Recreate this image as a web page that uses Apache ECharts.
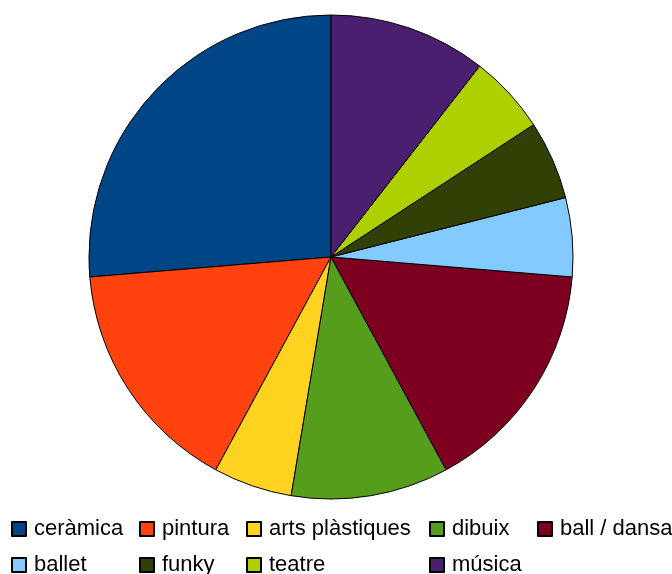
<!DOCTYPE html>
<html>
<head>
<meta charset="utf-8">
<style>html,body{margin:0;padding:0;background:#fff;}#c{width:672px;height:574px;}</style>
<script src="https://cdn.jsdelivr.net/npm/echarts@6/dist/echarts.min.js"></script>
</head>
<body>
<div id="c"></div>
<script>
const categories = ['ceràmica', 'pintura', 'arts plàstiques', 'dibuix', 'ball / dansa', 'ballet', 'funky', 'teatre', 'música'];
const values = [5, 3, 1, 2, 3, 1, 1, 1, 2];
const colors = ['#004586', '#ff420e', '#ffd320', '#579d1c', '#7e0021', '#83caff', '#314004', '#aecf00', '#4b1f6f'];
// legend grid: column and row of each category
const legendCol = [0, 1, 2, 3, 4, 0, 1, 2, 3];
const legendRow = [0, 0, 0, 0, 0, 1, 1, 1, 1];
const colLefts = [11, 139, 246, 429, 537];
const rowTops = [515, 551];

const chart = echarts.init(document.getElementById('c'), null, {renderer: 'canvas'});
const font = '"Liberation Sans", Arial, sans-serif';
chart.setOption({
  animation: false,
  color: colors,
  legend: categories.map((name, i) => ({
    data: [name],
    left: colLefts[legendCol[i]],
    top: rowTops[legendRow[i]],
    itemWidth: 14,
    itemHeight: 14,
    padding: 0,
    icon: 'rect',
    selectedMode: false,
    textStyle: {fontFamily: font, fontSize: 22, color: '#000', lineHeight: 14, padding: [14, 0, 0, 3]}
  })),
  series: [{
    type: 'pie',
    center: [331, 257],
    radius: 242,
    startAngle: 90,
    clockwise: false,
    silent: true,
    label: {show: false},
    labelLine: {show: false},
    itemStyle: {borderColor: '#000', borderWidth: 1},
    emphasis: {disabled: true},
    data: categories.map((name, i) => ({name, value: values[i]}))
  }]
});
</script>
</body>
</html>
